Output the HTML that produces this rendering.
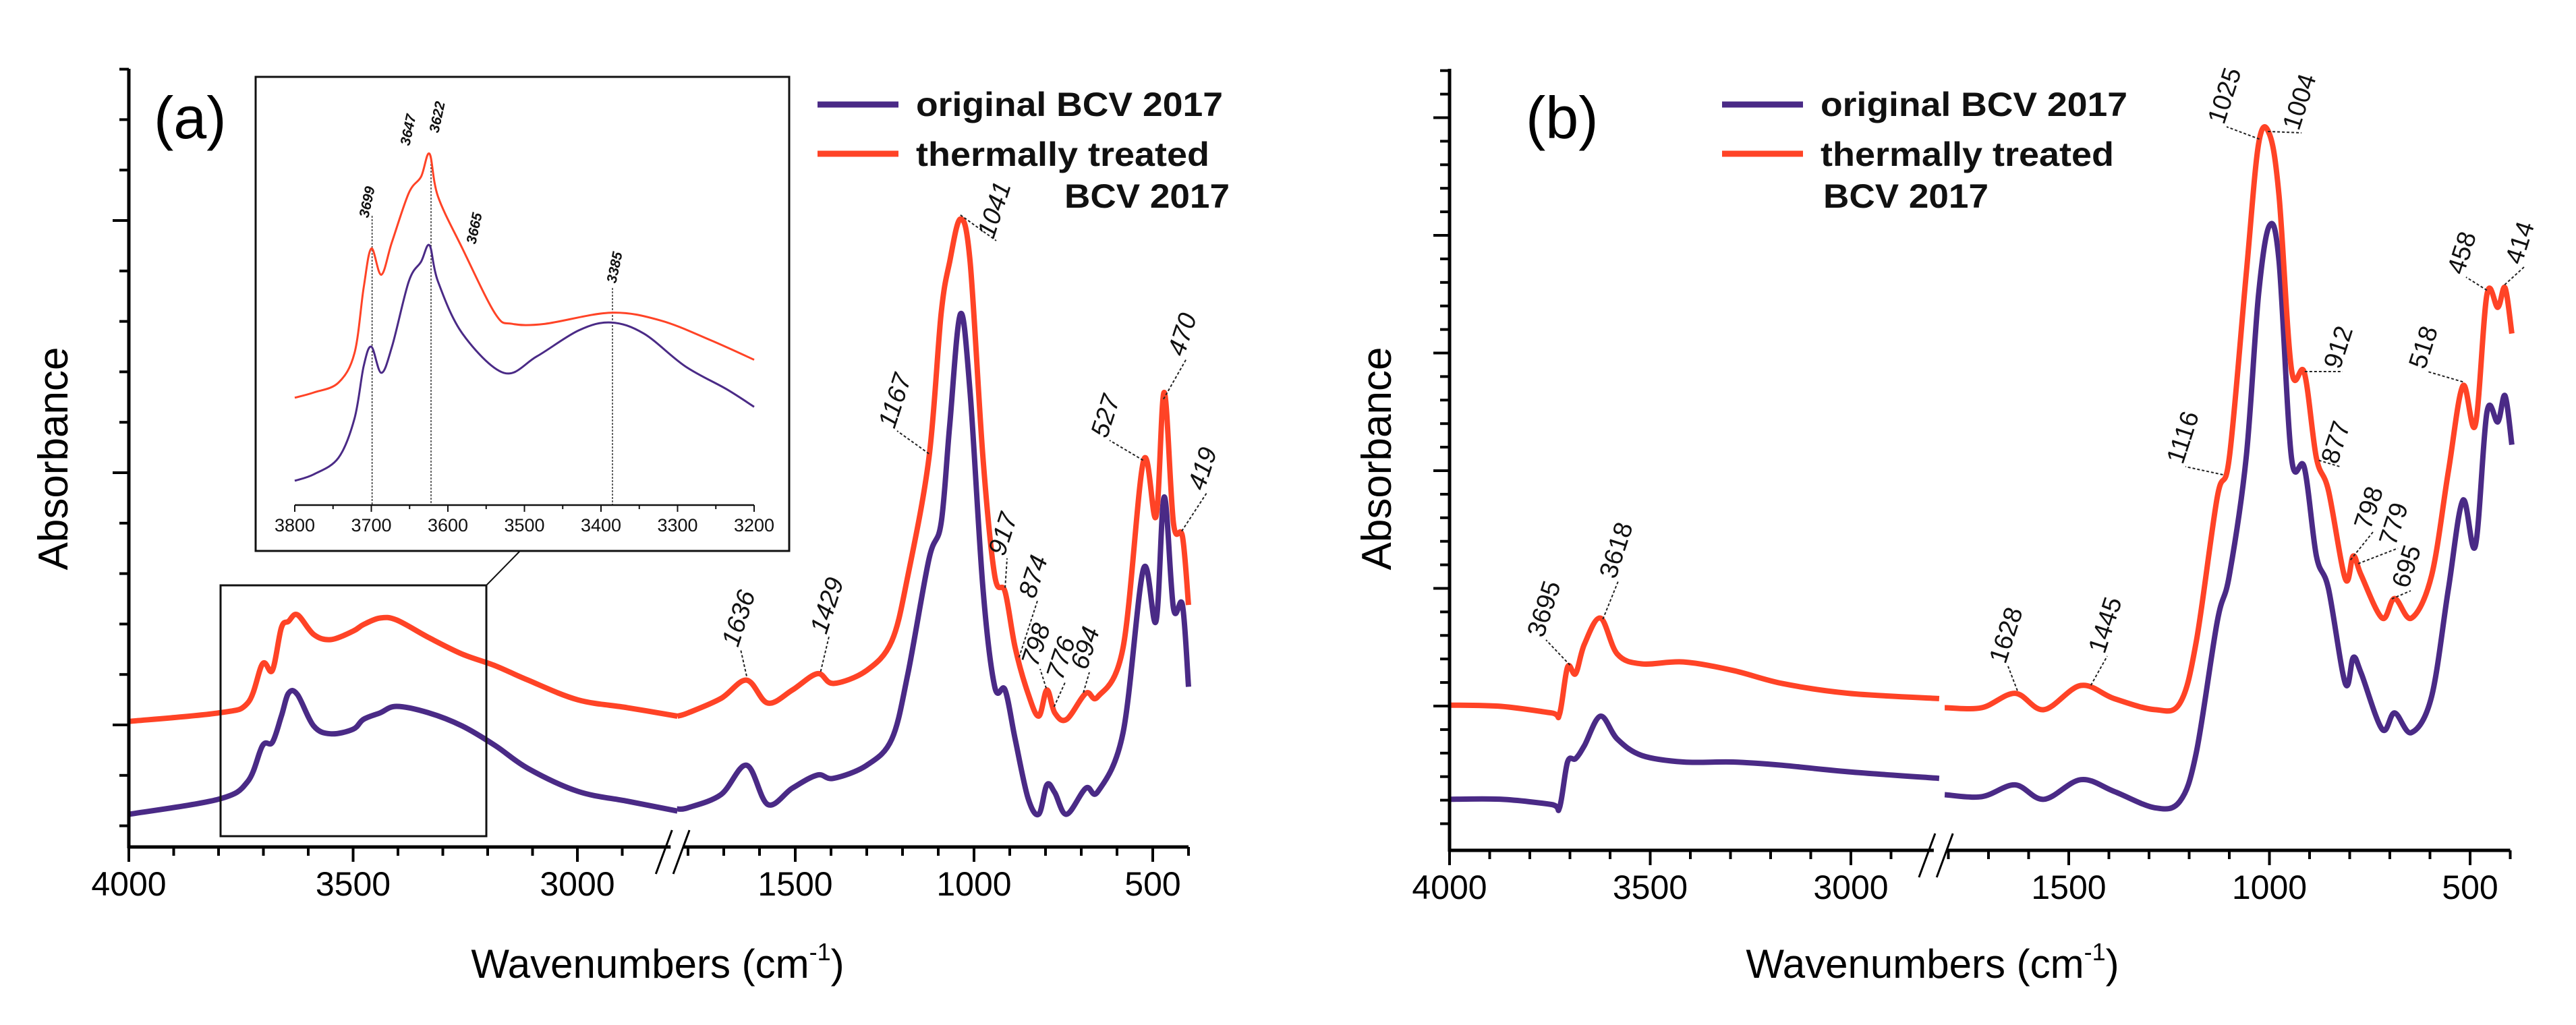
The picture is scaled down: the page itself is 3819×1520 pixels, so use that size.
<!DOCTYPE html>
<html><head><meta charset="utf-8"><style>
html,body{margin:0;padding:0;background:#fff;}
svg{display:block;font-family:"Liberation Sans",Arial,sans-serif;}
</style></head><body>
<svg id="fig" width="3819" height="1520" viewBox="0 0 3819 1520" xmlns="http://www.w3.org/2000/svg">
<rect width="3819" height="1520" fill="#fff"/>
<g id="pa"></g>
<g id="pb"></g>
</svg>
<script>
// ---------- Panel (a) data ----------
const aLeftWn = [4000,3800,3735,3702,3680,3660,3644,3624,3588,3550,3500,3477,3440,3403,3331,3257,3183,3110,2999,2889,2777];
const aLeftPurple = [.050,.073,.100,.155,.160,.200,.235,.233,.185,.173,.180,.195,.205,.215,.205,.185,.155,.120,.085,.070,.055];
const aLeftRed = [.192,.205,.220,.280,.270,.335,.345,.355,.325,.317,.330,.340,.350,.347,.320,.295,.277,.255,.225,.213,.200];
const aRightWn = [1830,1800,1708,1636,1577,1508,1438,1393,1300,1230,1185,1126,1092,1068,1038,1011,975,942,913,885,849,819,796,774,741,687,653,583,526,491,468,442,417,400];
const aRightPurple = [.058,.060,.080,.125,.065,.090,.110,.105,.125,.165,.265,.440,.495,.645,.815,.695,.395,.245,.240,.165,.075,.050,.095,.083,.050,.090,.085,.175,.425,.345,.535,.365,.370,.245];
const aRightRed = [.200,.205,.227,.255,.220,.240,.265,.250,.270,.315,.415,.595,.815,.895,.960,.895,.595,.415,.390,.305,.235,.200,.240,.205,.195,.235,.230,.305,.590,.505,.695,.495,.475,.370];
// inset data
const insRedWn = [3800,3775,3743,3722,3710,3700,3687,3673,3651,3635,3624,3613,3581,3538,3516,3473,3387,3322,3257,3200];
const insRed = [.192,.200,.215,.260,.360,.420,.380,.430,.505,.530,.565,.500,.420,.320,.305,.305,.322,.310,.280,.250];
const insPurWn = [3800,3775,3743,3722,3710,3700,3687,3673,3651,3635,3624,3613,3581,3527,3484,3429,3387,3344,3290,3236,3200];
const insPur = [.065,.075,.100,.160,.240,.270,.230,.270,.370,.400,.425,.370,.290,.230,.255,.295,.307,.290,.240,.205,.178];
const insTicks = ["3800","3700","3600","3500","3400","3300","3200"];
const aTicksLeft = ["4000","3500","3000"];
const aTicksRight = ["1500","1000","500"];
const aPeaks = ["1636","1429","1167","1041","917","874","798","776","694","527","470","419"];
const aPeakWn = [1636,1429,1126,1038,913,874,798,776,694,527,470,419];
// ---------- Panel (b) data ----------
const bLeftWn = [4000,3871,3746,3726,3706,3686,3664,3624,3582,3521,3417,3294,3171,3006,2780];
const bLeftPurple = [.076,.076,.068,.063,.133,.138,.158,.203,.168,.143,.133,.133,.128,.118,.108];
const bLeftRed = [.220,.218,.208,.206,.278,.268,.313,.353,.298,.283,.286,.273,.253,.238,.230];
const bRightWn = [1809,1717,1634,1562,1470,1387,1285,1223,1182,1130,1100,1058,1027,1000,976,945,913,883,853,811,791,771,719,688,646,596,554,518,487,458,431,413,396];
const bRightPurple = [.083,.080,.098,.076,.106,.088,.063,.073,.148,.348,.418,.598,.848,.953,.898,.598,.583,.448,.398,.253,.293,.268,.183,.208,.178,.233,.398,.533,.463,.668,.653,.693,.618];
const bRightRed = [.216,.216,.238,.213,.250,.230,.213,.223,.318,.538,.598,.878,1.078,1.093,.998,.733,.728,.598,.548,.413,.448,.418,.353,.383,.353,.418,.578,.708,.648,.848,.828,.858,.788];
const bTicksLeft = ["4000","3500","3000"];
const bTicksRight = ["1500","1000","500"];
const bPeaks = ["3695","3618","1628","1445","1116","1025","1004","912","877","798","779","695","518","458","414"];
const bPeakWn = [3700,3618,1628,1445,1116,1025,1004,912,877,798,779,695,518,458,414];

const NS="http://www.w3.org/2000/svg";
const PUR="#4a2a86", RED="#ff4326";
function mk(parent,tag,attrs){const e=document.createElementNS(NS,tag);for(const k in attrs)e.setAttribute(k,attrs[k]);parent.appendChild(e);return e;}
function spline(pts){
  let d="M"+pts[0][0].toFixed(1)+","+pts[0][1].toFixed(1);
  for(let i=0;i<pts.length-1;i++){
    const p0=pts[i-1]||pts[i],p1=pts[i],p2=pts[i+1],p3=pts[i+2]||p2;
    const c1=[p1[0]+(p2[0]-p0[0])/6,p1[1]+(p2[1]-p0[1])/6];
    const c2=[p2[0]-(p3[0]-p1[0])/6,p2[1]-(p3[1]-p1[1])/6];
    d+="C"+c1[0].toFixed(1)+","+c1[1].toFixed(1)+" "+c2[0].toFixed(1)+","+c2[1].toFixed(1)+" "+p2[0].toFixed(1)+","+p2[1].toFixed(1);
  }
  return d;
}
function interp(wns,vals,w){
  for(let i=0;i<wns.length-1;i++){
    if((wns[i]-w)*(wns[i+1]-w)<=0){const t=(w-wns[i])/(wns[i+1]-wns[i]);return vals[i]+t*(vals[i+1]-vals[i]);}
  }
  return vals[vals.length-1];
}

function panel(g,cfg){
  const X=cfg.x,Y=cfg.y;
  // series
  [[cfg.LW,cfg.LP,cfg.RW,cfg.RP,PUR,'purple'],[cfg.LW,cfg.LR,cfg.RW,cfg.RR,RED,'red']].forEach(s=>{
    const p1=mk(g,'path',{d:spline(s[0].map((w,i)=>[X(w),Y(s[1][i])])),fill:'none',stroke:s[4],'stroke-width':8,'stroke-linejoin':'round'});
    
    
    const p2=mk(g,'path',{d:spline(s[2].map((w,i)=>[X(w),Y(s[3][i])])),fill:'none',stroke:s[4],'stroke-width':8,'stroke-linejoin':'round'});
    
    
  });
  // axes
  const ax=mk(g,'g',{stroke:'#000','stroke-width':5});
  
  
  mk(ax,'line',{x1:cfg.ax,y1:cfg.top,x2:cfg.ax,y2:cfg.base+2});
  mk(ax,'line',{x1:cfg.ax,y1:cfg.base,x2:X(cfg.breakHi)-8,y2:cfg.base});
  mk(ax,'line',{x1:X(cfg.breakLo)+8,y1:cfg.base,x2:X(400),y2:cfg.base});
  mk(ax,'line',{x1:X(cfg.breakHi)-30,y1:cfg.base+40,x2:X(cfg.breakHi)-6,y2:cfg.base-25,'stroke-width':3});
  mk(ax,'line',{x1:X(cfg.breakLo)-6,y1:cfg.base+40,x2:X(cfg.breakLo)+18,y2:cfg.base-25,'stroke-width':3});
  for(let w=4000;w>=cfg.breakHi+50;w-=100){const M=w%500===0;mk(ax,'line',{x1:X(w),y1:cfg.base,x2:X(w),y2:cfg.base+(M?22:13),'stroke-width':4});}
  for(let w=1800;w>=400;w-=100){if(X(w)<X(cfg.breakLo)+5)continue;const M=w%500===0;mk(ax,'line',{x1:X(w),y1:cfg.base,x2:X(w),y2:cfg.base+(M?22:13),'stroke-width':4});}
  for(let k=0;;k++){const yy=cfg.ytick0-k*cfg.ystep;if(yy<cfg.top)break;const M=(k%5===0);mk(ax,'line',{x1:cfg.ax-(M?24:14),y1:yy,x2:cfg.ax,y2:yy,'stroke-width':4});}
  for(let k=1;;k++){const yy=cfg.ytick0+k*cfg.ystep;if(yy>cfg.base-5)break;mk(ax,'line',{x1:cfg.ax-14,y1:yy,x2:cfg.ax,y2:yy,'stroke-width':4});}
  cfg.TL.concat(cfg.TR).forEach(t=>{
    const e=mk(g,'text',{x:X(+t),y:cfg.base+72,'font-size':50,'text-anchor':'middle',fill:'#000'});
    e.textContent=t;
    
    
  });
  // titles
  const xt=mk(g,'text',{x:cfg.xtx,y:1450,'font-size':60,'text-anchor':'middle',fill:'#000'});
  xt.innerHTML='Wavenumbers (cm<tspan font-size="36" dy="-26">-1</tspan><tspan dy="26">)</tspan>';
  
  
  const yt=mk(g,'text',{x:0,y:0,'font-size':62,'text-anchor':'middle',fill:'#000',transform:'translate('+cfg.ytx+',680) rotate(-90)'});
  yt.textContent='Absorbance';
  
  
  const pl=mk(g,'text',{x:cfg.plx,y:205,'font-size':88,fill:'#000'});
  pl.textContent=cfg.plabel;
  
  
  // legend
  const lg=mk(g,'g',{});
  
  
  mk(lg,'line',{x1:cfg.lgx,y1:155,x2:cfg.lgx+120,y2:155,stroke:PUR,'stroke-width':9});
  mk(lg,'line',{x1:cfg.lgx,y1:228,x2:cfg.lgx+120,y2:228,stroke:RED,'stroke-width':9});
  const t1=mk(lg,'text',{x:cfg.lgx+146,y:172,'font-size':50,'font-weight':'bold',fill:'#111',textLength:455,lengthAdjust:'spacingAndGlyphs'});t1.textContent='original BCV 2017';
  const t2=mk(lg,'text',{x:cfg.lgx+146,y:246,'font-size':50,'font-weight':'bold',fill:'#111',textLength:435,lengthAdjust:'spacingAndGlyphs'});t2.textContent='thermally treated';
  const t3=mk(lg,'text',{x:cfg.bcvx,y:308,'font-size':50,'font-weight':'bold',fill:'#111',textLength:245,lengthAdjust:'spacingAndGlyphs'});t3.textContent='BCV 2017';
  // peak labels
  cfg.peaks.forEach((lab,i)=>{
    const w=cfg.peakWn[i];
    const wns=w>2000?cfg.LW:cfg.RW, vals=w>2000?cfg.LR:cfg.RR;
    const px=X(w),py=Y(interp(wns,vals,w));
    const an=cfg.anchors[i];
    const ld=mk(g,'line',{x1:px,y1:py-6,x2:an[0]+4,y2:an[1]+2,stroke:'#222','stroke-width':2,'stroke-dasharray':'4,3'});
    
    
    const t=mk(g,'text',{x:0,y:0,'font-size':38,'font-style':cfg.ital?'italic':'normal',fill:'#111',transform:'translate('+an[0]+','+an[1]+') rotate(-72)'});
    t.textContent=lab;
    
    
  });
}

const xa=w=>w>=2200?191+(4000-w)*0.665:1179+(1500-w)*0.53;
const ya=a=>1256-970*a;
panel(document.getElementById('pa'),{x:xa,y:ya,LW:aLeftWn,LP:aLeftPurple,LR:aLeftRed,RW:aRightWn,RP:aRightPurple,RR:aRightRed,
  ax:191,top:102,base:1256,breakHi:2780,breakLo:1830,ytick0:1075,ystep:74.8,TL:aTicksLeft,TR:aTicksRight,
  xtx:975,ytx:100,plx:228,plabel:'(a)',lgx:1212,bcvx:1578,peaks:aPeaks,peakWn:aPeakWn,ital:true,
  anchors:[[1094,961],[1225,942],[1326,637],[1473,355],[1489,826],[1534,889],[1538,990],[1575,1010],[1611,995],[1641,651],[1755,530],[1785,729]]});

const xb=w=>w>=2200?2149+(4000-w)*0.595:3067+(1500-w)*0.595;
const yb=a=>1259-970*a;
panel(document.getElementById('pb'),{x:xb,y:yb,LW:bLeftWn,LP:bLeftPurple,LR:bLeftRed,RW:bRightWn,RP:bRightPurple,RR:bRightRed,
  ax:2149,top:102,base:1261,breakHi:2780,breakLo:1819,ytick0:1047,ystep:34.9,TL:bTicksLeft,TR:bTicksRight,
  xtx:2865,ytx:2062,plx:2262,plabel:'(b)',lgx:2553,bcvx:2703,peaks:bPeaks,peakWn:bPeakWn,ital:false,
  anchors:[[2288,947],[2395,860],[2973,986],[3120,971],[3236,690],[3297,186],[3408,195],[3469,549],[3465,690],[3514,787],[3551,811],[3570,874],[3595,549],[3652,409],[3738,394]]});

// ---------- Inset ----------
(function(){
  const g=mk(document.getElementById('pa'),'g',{});
  
  
  const xi=w=>437+(3800-w)*1.135, yi=b=>776-970*b;
  mk(g,'rect',{x:379,y:114,width:791,height:703,fill:'#fff',stroke:'#111','stroke-width':3});
  // zoom box on main plot and connector
  const zb=mk(document.getElementById('pa'),'rect',{x:327,y:868,width:394,height:372,fill:'none',stroke:'#111','stroke-width':3});
  
  
  mk(document.getElementById('pa'),'line',{x1:721,y1:868,x2:771,y2:817,stroke:'#111','stroke-width':2});
  // markers
  [[3699,320],[3622,233],[3385,427]].forEach(m=>{
    mk(g,'line',{x1:xi(m[0]),y1:m[1],x2:xi(m[0]),y2:749,stroke:'#333','stroke-width':1.5,'stroke-dasharray':'3,2'});
  });
  const pr=mk(g,'path',{d:spline(insRedWn.map((w,i)=>[xi(w),yi(insRed[i])])),fill:'none',stroke:RED,'stroke-width':3});
  
  
  const pp=mk(g,'path',{d:spline(insPurWn.map((w,i)=>[xi(w),yi(insPur[i])])),fill:'none',stroke:PUR,'stroke-width':3});
  
  
  mk(g,'line',{x1:437,y1:749,x2:1118,y2:749,stroke:'#111','stroke-width':2.5});
  for(let w=3800;w>=3200;w-=50){mk(g,'line',{x1:xi(w),y1:749,x2:xi(w),y2:749+(w%100===0?10:6),stroke:'#111','stroke-width':2});}
  insTicks.forEach(t=>{
    const e=mk(g,'text',{x:xi(+t),y:788,'font-size':27,'text-anchor':'middle',fill:'#111'});
    e.textContent=t;
    
    
  });
  [["3699",551,301],["3647",612,194],["3622",655,175],["3665",710,340],["3385",918,398]].forEach(l=>{
    const e=mk(g,'text',{x:0,y:0,'font-size':21,'font-weight':'bold','font-style':'italic','text-anchor':'middle',fill:'#111',transform:'translate('+l[1]+','+l[2]+') rotate(-78)'});
    e.textContent=l[0];
    
    
  });
})();
</script>
</body></html>
